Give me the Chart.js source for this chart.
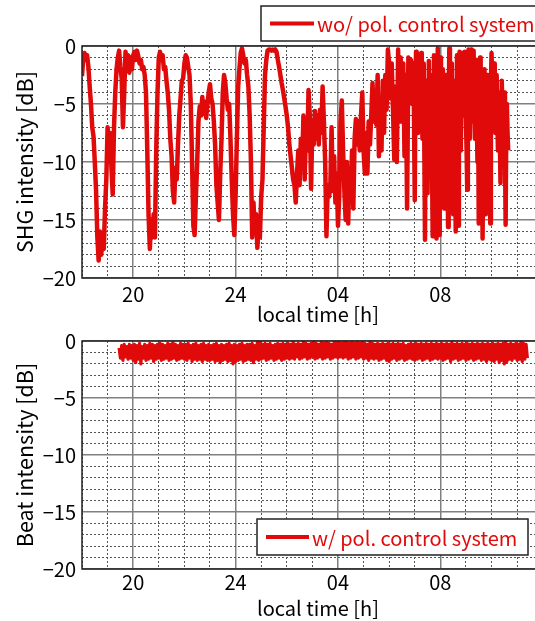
<!DOCTYPE html>
<html><head><meta charset="utf-8">
<script src="https://cdn.jsdelivr.net/npm/chart.js@4.4.1/dist/chart.umd.min.js"></script>
<style>
html,body{margin:0;padding:0;background:#fff;overflow:hidden;width:535px;height:621px;position:relative;}
#c1{position:absolute;left:0;top:0;}
#c2{position:absolute;left:0;top:325px;}
</style></head><body>
<canvas id="c1" width="570" height="325"></canvas>
<canvas id="c2" width="570" height="296"></canvas>
<script>
// ---- data (hours since midnight of day 1; 24+ = next day) ----
const shgHours = [
18,18.05,18.1,18.15,18.2,18.25,18.3,18.35,18.4,18.45,18.5,18.55,18.6,18.65,18.7,18.75,18.8,18.85,18.9,18.95,
19,19.05,19.1,19.15,19.2,19.25,19.3,19.35,19.4,19.45,19.5,19.55,19.6,19.65,19.7,19.75,19.8,19.85,19.9,19.95,
20,20.05,20.1,20.15,20.2,20.25,20.3,20.35,20.4,20.45,20.5,20.55,20.6,20.65,20.7,20.75,20.8,20.85,20.9,20.95,
21,21.05,21.1,21.15,21.2,21.25,21.3,21.35,21.4,21.45,21.5,21.55,21.6,21.65,21.7,21.75,21.8,21.85,21.9,21.95,
22,22.05,22.1,22.15,22.2,22.25,22.3,22.35,22.4,22.45,22.5,22.55,22.6,22.65,22.7,22.75,22.8,22.85,22.9,22.95,
23,23.05,23.1,23.15,23.2,23.25,23.3,23.35,23.4,23.45,23.5,23.55,23.6,23.65,23.7,23.75,23.8,23.85,23.9,23.95,
24,24.05,24.1,24.15,24.2,24.25,24.3,24.35,24.4,24.45,24.5,24.55,24.6,24.65,24.7,24.75,24.8,24.85,24.9,24.95,
25,25.05,25.1,25.15,25.2,25.25,25.3,25.35,25.4,25.45,25.5,25.55,25.6,25.65,25.7,25.75,25.8,25.85,25.9,25.95,
26,26.05,26.1,26.15,26.2,26.25,26.3,26.35,26.4,26.45,26.5,26.55,26.6,26.65,26.7,26.75,26.8,26.85,26.9,26.95,
27,27.05,27.1,27.15,27.2,27.25,27.3,27.35,27.4,27.45,27.5,27.55,27.6,27.65,27.7,27.75,27.8,27.85,27.9,27.95,
28,28.05,28.1,28.15,28.2,28.25,28.3,28.35,28.4,28.45,28.5,28.55,28.6,28.65,28.7,28.75,28.8,28.85,28.9,28.95,
29,29.05,29.1,29.15,29.2,29.25,29.3,29.35,29.4,29.45,29.5,29.55,29.6,29.65,29.7,29.75,29.8,29.85,29.9,29.95,
30,30.05,30.1,30.15,30.2,30.25,30.3,30.35,30.4,30.45,30.5,30.55,30.6,30.65,30.7,30.75,30.8,30.85,30.9,30.95,
31,31.025,31.05,31.075,31.1,31.125,31.15,31.175,31.2,31.225,31.25,31.275,31.3,31.325,31.35,31.375,31.4,31.425,31.45,31.475,
31.5,31.525,31.55,31.575,31.6,31.625,31.65,31.675,31.7,31.725,31.75,31.775,31.8,31.825,31.85,31.875,31.9,31.925,31.95,31.975,
32,32.025,32.05,32.075,32.1,32.125,32.15,32.175,32.2,32.225,32.25,32.275,32.3,32.325,32.35,32.375,32.4,32.425,32.45,32.475,
32.5,32.525,32.55,32.575,32.6,32.625,32.65,32.675,32.7,32.725,32.75,32.775,32.8,32.825,32.85,32.875,32.9,32.925,32.95,32.975,
33,33.025,33.05,33.075,33.1,33.125,33.15,33.175,33.2,33.225,33.25,33.275,33.3,33.325,33.35,33.375,33.4,33.425,33.45,33.475,
33.5,33.525,33.55,33.575,33.6,33.625,33.65,33.675,33.7,33.725,33.75,33.775,33.8,33.825,33.85,33.875,33.9,33.925,33.95,33.975,
34,34.025,34.05,34.075,34.1,34.125,34.15,34.175,34.2,34.225,34.25,34.275,34.3,34.325,34.35,34.375,34.4,34.425,34.45,34.475,
34.5,34.525,34.55,34.575,34.6,34.625,34.65
];
const shgDb = [
-2.6,-1.0,-0.6,-1.2,-0.8,-1.8,-3.5,-5.0,-7.0,-7.8,-10.0,-12.5,-16.5,-18.5,-16.0,-18.0,-16.5,-17.5,-14.0,-11.5,
-7.0,-8.5,-7.5,-10.5,-12.8,-7.0,-4.0,-2.0,-1.0,-0.4,-1.8,-2.8,-7.0,-4.0,-0.5,-1.5,-0.8,-2.3,-1.0,-2.0,
-0.8,-0.5,-1.2,-0.4,-0.9,-1.5,-1.2,-2.0,-1.8,-2.5,-4.0,-9.0,-14.5,-17.5,-15.0,-16.5,-14.5,-16.5,-9.0,-4.0,
-1.0,-0.5,-1.2,-0.8,-2.0,-1.8,-3.0,-4.0,-5.5,-8.0,-9.5,-12.5,-13.5,-10.5,-11.5,-8.5,-6.0,-4.5,-3.0,-2.8,
-1.5,-0.8,-1.0,-1.8,-2.5,-5.0,-10.0,-15.5,-16.3,-13.0,-10.0,-6.5,-5.2,-6.0,-4.4,-5.8,-4.8,-6.2,-5.0,-4.0,
-3.3,-4.5,-5.0,-6.5,-8.5,-12.0,-13.5,-15.0,-11.0,-8.0,-4.0,-2.5,-3.2,-4.5,-5.5,-5.0,-8.0,-11.5,-14.5,-16.3,
-13.0,-8.0,-3.5,-2.0,-0.6,-0.2,-0.8,-1.5,-1.2,-2.5,-3.5,-6.0,-10.0,-16.5,-13.5,-16.0,-14.5,-17.4,-15.5,-16.5,
-13.0,-11.5,-7.0,-2.5,-1.2,-0.4,-0.3,-0.3,-0.4,-0.3,-0.4,-0.3,-0.5,-1.2,-1.8,-2.5,-3.2,-3.8,-4.5,-5.2,
-6.0,-7.0,-8.5,-9.5,-10.5,-11.5,-12.0,-13.5,-11.0,-9.0,-12.0,-8.0,-10.5,-6.0,-11.5,-7.0,-9.0,-3.8,-6.0,-12.3,
-6.5,-8.5,-5.6,-8.0,-6.0,-8.5,-5.5,-7.5,-3.5,-6.5,-10.0,-16.4,-12.0,-13.0,-12.2,-7.0,-12.5,-9.5,-13.5,-11.0,
-15.5,-13.0,-6.5,-4.7,-9.0,-12.5,-15.0,-10.0,-15.3,-10.5,-13.0,-9.0,-14.0,-8.0,-6.3,-8.5,-6.5,-9.0,-6.0,-4.0,
-9.0,-11.0,-7.5,-11.0,-6.5,-8.5,-6.0,-3.2,-6.5,-4.0,-6.8,-2.5,-9.5,-4.5,-9.0,-3.0,-7.5,-2.5,-5.5,-0.3,
-1.5,-4.5,-1.5,-5.5,-9.8,-3.5,-10.0,-0.3,-6.5,-1.0,-6.5,-1.5,-9.5,-2.5,-14.0,-1.0,-4.5,-1.2,-5.0,-1.5,
-13.3,-4.0,-0.5,-5.0,-7.5,-3.0,-1.2,-6.5,-5.5,-2.0,-0.6,-4.5,-8.0,-4.0,-1.5,-9.0,-16.7,-6.0,-3.0,-7.0,
-12.7,-5.0,-1.3,-6.0,-9.0,-2.5,-3.5,-10.0,-16.4,-4.0,-0.8,-6.0,-10.5,-3.0,-16.6,-5.0,-0.2,-8.0,-16.3,-4.0,
-1.0,-5.0,-9.0,-3.5,-2.0,-7.0,-14.0,-6.0,-4.5,-2.5,-10.0,-6.5,-15.6,-5.0,-0.2,-4.0,-11.0,-6.0,-1.5,-8.0,
-14.5,-3.0,-4.0,-9.0,-16.0,-5.5,-0.8,-7.0,-15.5,-3.0,-0.5,-4.5,-9.0,-2.5,-0.6,-3.5,-6.0,-2.0,-0.5,-3.0,
-6.5,-9.0,-12.4,-4.0,-0.3,-3.5,-8.0,-2.0,-0.3,-4.0,-6.5,-2.5,-0.4,-5.0,-8.0,-3.0,-1.2,-6.0,-10.0,-5.0,
-15.3,-4.0,-1.0,-7.0,-12.5,-3.5,-16.6,-9.0,-6.0,-2.0,-14.5,-3.0,-6.5,-2.5,-12.0,-4.0,-7.0,-2.5,-15.3,-3.0,
-0.6,-3.0,-6.0,-2.5,-1.5,-4.5,-7.5,-3.0,-2.5,-6.0,-9.0,-4.0,-5.5,-8.0,-11.8,-4.5,-3.0,-6.0,-7.5,-4.0,
-4.0,-9.0,-15.4,-7.0,-5.0,-7.5,-9.0
];
const beatHours = [
19.45,19.5,19.55,19.6,19.65,19.7,19.75,19.8,19.85,19.9,19.95,
20,20.05,20.1,20.15,20.2,20.25,20.3,20.35,20.4,20.45,20.5,20.55,20.6,20.65,20.7,20.75,20.8,20.85,20.9,20.95,
21,21.05,21.1,21.15,21.2,21.25,21.3,21.35,21.4,21.45,21.5,21.55,21.6,21.65,21.7,21.75,21.8,21.85,21.9,21.95,
22,22.05,22.1,22.15,22.2,22.25,22.3,22.35,22.4,22.45,22.5,22.55,22.6,22.65,22.7,22.75,22.8,22.85,22.9,22.95,
23,23.05,23.1,23.15,23.2,23.25,23.3,23.35,23.4,23.45,23.5,23.55,23.6,23.65,23.7,23.75,23.8,23.85,23.9,23.95,
24,24.05,24.1,24.15,24.2,24.25,24.3,24.35,24.4,24.45,24.5,24.55,24.6,24.65,24.7,24.75,24.8,24.85,24.9,24.95,
25,25.05,25.1,25.15,25.2,25.25,25.3,25.35,25.4,25.45,25.5,25.55,25.6,25.65,25.7,25.75,25.8,25.85,25.9,25.95,
26,26.05,26.1,26.15,26.2,26.25,26.3,26.35,26.4,26.45,26.5,26.55,26.6,26.65,26.7,26.75,26.8,26.85,26.9,26.95,
27,27.05,27.1,27.15,27.2,27.25,27.3,27.35,27.4,27.45,27.5,27.55,27.6,27.65,27.7,27.75,27.8,27.85,27.9,27.95,
28,28.05,28.1,28.15,28.2,28.25,28.3,28.35,28.4,28.45,28.5,28.55,28.6,28.65,28.7,28.75,28.8,28.85,28.9,28.95,
29,29.05,29.1,29.15,29.2,29.25,29.3,29.35,29.4,29.45,29.5,29.55,29.6,29.65,29.7,29.75,29.8,29.85,29.9,29.95,
30,30.05,30.1,30.15,30.2,30.25,30.3,30.35,30.4,30.45,30.5,30.55,30.6,30.65,30.7,30.75,30.8,30.85,30.9,30.95,
31,31.05,31.1,31.15,31.2,31.25,31.3,31.35,31.4,31.45,31.5,31.55,31.6,31.65,31.7,31.75,31.8,31.85,31.9,31.95,
32,32.05,32.1,32.15,32.2,32.25,32.3,32.35,32.4,32.45,32.5,32.55,32.6,32.65,32.7,32.75,32.8,32.85,32.9,32.95,
33,33.05,33.1,33.15,33.2,33.25,33.3,33.35,33.4,33.45,33.5,33.55,33.6,33.65,33.7,33.75,33.8,33.85,33.9,33.95,
34,34.05,34.1,34.15,34.2,34.25,34.3,34.35,34.4,34.45,34.5,34.55,34.6,34.65,34.7,34.75,34.8,34.85,34.9,34.95,
35,35.05,35.1,35.15,35.2,35.25,35.3,35.35,35.4
];
const beatDb = [
-0.6,-1.5,-0.4,-1.7,-0.3,-1.4,-0.5,-1.6,-0.3,-1.5,-0.4,
-1.7,-0.3,-1.9,-0.4,-1.6,-0.2,-2.0,-0.5,-1.5,-0.3,-1.7,-0.4,-1.6,-0.2,-1.5,-0.3,-1.8,-0.4,-1.6,-0.3,
-1.5,-0.2,-1.7,-0.3,-1.6,-0.4,-1.5,-0.2,-1.7,-0.3,-1.6,-0.1,-1.5,-0.3,-1.7,-0.4,-1.6,-0.2,-1.5,-0.3,
-1.6,-0.3,-1.7,-0.2,-1.5,-0.4,-1.8,-0.3,-1.6,-0.2,-1.7,-0.4,-1.6,-0.3,-1.8,-0.2,-1.6,-0.4,-1.7,-0.3,
-1.7,-0.4,-1.6,-0.3,-1.8,-0.2,-1.7,-0.4,-1.9,-0.3,-1.7,-0.4,-1.6,-0.3,-1.8,-0.2,-1.7,-0.4,-2.0,-0.3,
-1.8,-0.4,-1.7,-0.3,-1.6,-0.2,-1.8,-0.4,-1.7,-0.3,-1.6,-0.3,-1.7,-0.2,-1.9,-0.4,-1.6,-0.1,-1.7,0.0,
-1.6,-0.3,-1.5,-0.2,-1.7,-0.3,-1.6,-0.2,-1.5,-0.4,-1.7,-0.3,-1.6,-0.2,-1.5,-0.3,-1.7,-0.2,-1.6,-0.3,
-1.5,-0.2,-1.6,-0.3,-1.5,-0.1,-1.6,-0.3,-1.4,-0.2,-1.6,-0.3,-1.5,-0.1,-1.4,-0.2,-1.6,-0.3,-1.5,-0.2,
-1.4,-0.1,-1.6,-0.2,-1.5,-0.3,-1.4,-0.1,-1.6,-0.2,-1.5,-0.1,-1.4,-0.2,-1.6,-0.3,-1.5,-0.1,-1.4,0.0,
-1.5,-0.1,-1.4,-0.2,-1.5,0.0,-1.4,-0.1,-1.6,-0.2,-1.5,-0.1,-1.4,-0.2,-1.6,-0.1,-1.5,-0.2,-1.4,-0.1,
-1.6,-0.2,-1.5,-0.3,-1.7,-0.1,-1.5,-0.2,-1.6,-0.3,-1.5,-0.2,-1.7,-0.3,-1.6,-0.2,-1.5,-0.3,-1.7,-0.2,
-1.8,-0.3,-1.6,-0.2,-1.5,-0.3,-1.7,-0.2,-1.6,-0.3,-1.5,-0.2,-1.7,-0.4,-1.6,-0.3,-1.5,-0.2,-1.6,-0.3,
-1.7,-0.2,-1.6,-0.3,-1.5,-0.2,-1.7,-0.3,-1.6,-0.2,-1.5,-0.3,-1.7,-0.2,-1.6,-0.3,-1.5,-0.2,-1.6,-0.3,
-1.5,-0.2,-1.7,-0.3,-1.6,-0.2,-1.5,-0.3,-1.8,-0.1,-1.6,-0.3,-1.5,-0.2,-1.7,-0.3,-1.6,-0.2,-1.5,-0.3,
-1.7,-0.2,-1.6,-0.3,-1.5,-0.2,-1.7,-0.3,-1.6,-0.2,-1.5,-0.3,-1.7,-0.2,-1.6,-0.3,-1.8,-0.2,-1.6,-0.3,
-1.7,-0.2,-1.8,-0.3,-1.6,-0.2,-1.9,-0.3,-1.7,-0.2,-2.0,-0.1,-1.8,-0.3,-1.6,-0.2,-1.7,-0.3,-1.5,-0.2,
-1.7,-0.3,-1.6,0.0,-1.8,-0.2,-1.6,-0.3,-1.5
];
const xTickHours = [20, 24, 28, 32];
const xTickLabels = ['20', '24', '04', '08'];
const yTickValues = [0, -5, -10, -15, -20];
const yTickLabels = ['0', '\u22125', '\u221210', '\u221215', '\u221220'];
const xAxisTitle = 'local time [h]';
const shgAxisTitle = 'SHG intensity [dB]';
const beatAxisTitle = 'Beat intensity [dB]';
const shgLabel = 'wo/ pol. control system';
const beatLabel = 'w/ pol. control system';

// ---- styling ----
const FONT = '"Noto Sans CJK JP", "Noto Sans", sans-serif';
const RED = '#e00a0a';
const MAJOR = '#808080';
const MINOR = '#555555';
const X_MIN = 18, X_MAX = 36.44;

const framePlugin = {
  id: 'frame',
  afterDatasetsDraw(chart) {
    const {ctx, chartArea: a} = chart;
    ctx.save();
    ctx.strokeStyle = '#222';
    ctx.lineWidth = 1.5;
    ctx.strokeRect(a.left, a.top, a.right - a.left, a.bottom - a.top);
    ctx.restore();
  }
};
const boxLegend = {
  id: 'boxLegend',
  afterDraw(chart, args, o) {
    const ds = chart.data.datasets[0];
    const ctx = chart.ctx;
    ctx.save();
    ctx.fillStyle = '#fff';
    ctx.fillRect(o.x, o.y, o.w, o.h);
    ctx.strokeStyle = '#222';
    ctx.lineWidth = 1.5;
    ctx.strokeRect(o.x, o.y, o.w, o.h);
    const cy = o.y + o.h / 2;
    ctx.strokeStyle = ds.borderColor;
    ctx.lineWidth = 4;
    ctx.beginPath();
    ctx.moveTo(o.x + o.lineStart, cy);
    ctx.lineTo(o.x + o.lineEnd, cy);
    ctx.stroke();
    ctx.fillStyle = ds.borderColor;
    ctx.font = '20px ' + FONT;
    ctx.textBaseline = 'middle';
    ctx.fillText(ds.label, o.x + o.textStart, cy + 1);
    ctx.restore();
  }
};

function isMajorX(v) { return xTickHours.includes(v) || v === 36; }
function isMajorY(v) { return yTickValues.includes(v); }

function makeChart(id, hours, db, label, yTitle, cfg) {
  const tickFont = {family: FONT, size: 20, lineHeight: 1};
  return new Chart(document.getElementById(id), {
    type: 'line',
    data: {datasets: [{
      label: label,
      data: hours.map((h, i) => ({x: h, y: db[i]})),
      borderColor: RED, backgroundColor: RED,
      borderWidth: cfg.lw, pointRadius: 0, tension: 0,
      borderJoinStyle: 'round', fill: false
    }]},
    options: {
      responsive: false, animation: false, events: [],
      layout: {padding: {top: cfg.top, right: cfg.right, left: 0, bottom: 0}},
      plugins: {legend: {display: false}, tooltip: {enabled: false}, boxLegend: cfg.legend},
      scales: {
        x: {
          type: 'linear', min: X_MIN, max: X_MAX,
          afterFit(s) { s.height = cfg.xAxisH; },
          ticks: {
            stepSize: 1, autoSkip: false, includeBounds: false, maxRotation: 0,
            padding: cfg.xPad, font: tickFont, color: '#000',
            callback: (v) => { const k = xTickHours.indexOf(v); return k >= 0 ? xTickLabels[k] : ''; }
          },
          grid: {
            drawTicks: false,
            color: (c) => (c.tick && isMajorX(c.tick.value)) ? MAJOR : MINOR,
            lineWidth: (c) => (c.tick && isMajorX(c.tick.value)) ? 1.5 : 1
          },
          border: {display: false, dash: (c) => (c.tick && !isMajorX(c.tick.value)) ? [2, 2] : []},
          title: {display: true, text: xAxisTitle, color: '#000',
                  font: {family: FONT, size: 20, lineHeight: 1},
                  padding: {top: 0, bottom: cfg.xTitlePad}}
        },
        y: {
          type: 'linear', min: -20, max: 0,
          afterFit(s) { s.width = 82; },
          ticks: {
            stepSize: 1, autoSkip: false, padding: 6, font: tickFont, color: '#000',
            callback: (v) => { const k = yTickValues.indexOf(v); return k >= 0 ? yTickLabels[k] : ''; }
          },
          grid: {
            drawTicks: false,
            color: (c) => (c.tick && isMajorY(c.tick.value)) ? MAJOR : MINOR,
            lineWidth: (c) => (c.tick && isMajorY(c.tick.value)) ? 1.5 : 1
          },
          border: {display: false, dash: (c) => (c.tick && !isMajorY(c.tick.value)) ? [2, 2] : []},
          title: {display: true, text: yTitle, color: '#000',
                  font: {family: FONT, size: 21.5, lineHeight: 1},
                  padding: {top: 14, bottom: 0}}
        }
      }
    },
    plugins: [framePlugin, boxLegend]
  });
}

makeChart('c1', shgHours, shgDb, shgLabel, shgAxisTitle, {
  top: 46, right: 16, xAxisH: 47, xPad: 6, xTitlePad: 1, lw: 4.5,
  legend: {x: 261, y: 6, w: 290, h: 35, lineStart: 9, lineEnd: 53, textStart: 56}
});
makeChart('c2', beatHours, beatDb, beatLabel, beatAxisTitle, {
  top: 13, right: 16, xAxisH: 52, xPad: 3, xTitlePad: 3, lw: 3.2,
  legend: {x: 257, y: 194, w: 271, h: 36, lineStart: 9, lineEnd: 52, textStart: 55}
});
</script>
</body></html>
